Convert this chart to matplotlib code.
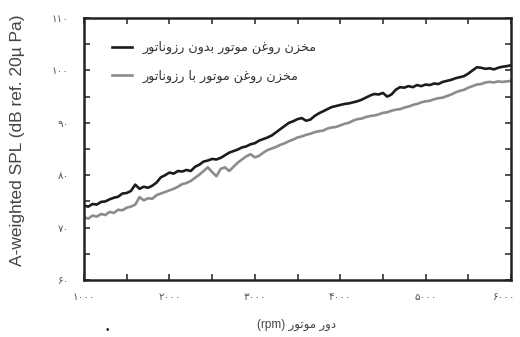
import numpy as np
import matplotlib
matplotlib.use("Agg")
import matplotlib.pyplot as plt
import matplotlib.transforms as mtransforms
from matplotlib.ticker import MultipleLocator, FixedLocator, FixedFormatter

plt.rcParams['font.family'] = ['Liberation Sans', 'DejaVu Sans']

# Engine speed (rpm) and A-weighted SPL (dB) for the two oil-pan variants
rpm = np.arange(1000, 6001, 50)

spl_no_resonator = [
    74.2, 74.0, 74.5, 74.4, 74.9, 75.0, 75.4, 75.7, 75.9, 76.5,
    76.6, 77.0, 78.2, 77.4, 77.8, 77.6, 78.0, 78.6, 79.6, 80.0,
    80.5, 80.3, 80.8, 80.7, 81.0, 80.8, 81.6, 82.0, 82.6, 82.8,
    83.1, 83.0, 83.3, 83.8, 84.3, 84.6, 84.9, 85.3, 85.5, 85.9,
    86.1, 86.6, 86.9, 87.2, 87.6, 88.2, 88.8, 89.4, 90.0, 90.3,
    90.7, 90.9, 90.4, 90.6, 91.3, 91.8, 92.2, 92.6, 93.0, 93.2,
    93.4, 93.6, 93.7, 93.9, 94.1, 94.4, 94.8, 95.2, 95.5, 95.4,
    95.7, 95.0, 95.4, 96.3, 96.8, 96.7, 97.0, 96.8, 97.2, 97.0,
    97.3, 97.2, 97.5, 97.4, 97.8, 98.0, 98.2, 98.5, 98.7, 98.9,
    99.4, 100.0, 100.6, 100.5, 100.3, 100.4, 100.2, 100.5, 100.7, 100.8,
    101.0,
]

spl_with_resonator = [
    72.0, 71.7, 72.3, 72.1, 72.6, 72.4, 73.0, 72.8, 73.4, 73.3,
    73.8, 74.0, 74.4, 75.8, 75.2, 75.6, 75.5, 76.2, 76.5, 76.8,
    77.1, 77.4, 77.8, 78.3, 78.5, 78.9, 79.5, 80.1, 80.8, 81.5,
    80.6, 79.8, 81.2, 81.5, 80.8, 81.6, 82.4, 83.0, 83.6, 84.0,
    83.4, 83.7, 84.3, 84.8, 85.1, 85.4, 85.8, 86.1, 86.5, 86.8,
    87.2, 87.4, 87.7, 87.9, 88.2, 88.4, 88.5, 88.9, 89.1, 89.2,
    89.5, 89.8, 90.0, 90.4, 90.7, 90.8, 91.1, 91.3, 91.4, 91.6,
    91.9, 92.0, 92.3, 92.5, 92.6, 92.9, 93.1, 93.4, 93.6, 93.9,
    94.1, 94.2, 94.5, 94.7, 94.8, 95.1, 95.4, 95.8, 96.1, 96.3,
    96.7, 97.0, 97.3, 97.4, 97.7, 97.8, 97.7, 97.9, 97.8, 97.9,
    98.0,
]

x_ticks = [1000, 2000, 3000, 4000, 5000, 6000]
x_tick_labels = ['۱۰۰۰', '۲۰۰۰', '۳۰۰۰', '۴۰۰۰', '۵۰۰۰', '۶۰۰۰']
y_ticks = [60, 70, 80, 90, 100, 110]
y_tick_labels = ['۶۰', '۷۰', '۸۰', '۹۰', '۱۰۰', '۱۱۰']

label_no_resonator = 'مخزن روغن موتور بدون رزوناتور'
label_with_resonator = 'مخزن روغن موتور با رزوناتور'
x_label_fa = 'دور موتور'
y_label = 'A-weighted SPL (dB ref. 20µ Pa)'


# Minimal Arabic-script shaping: contextual presentation forms + visual order
FORMS = {
    # letter: (isolated, final, initial, medial) ; None where the form doesn't exist
    'ا': ('\uFE8D', '\uFE8E', None, None),
    'ب': ('\uFE8F', '\uFE90', '\uFE91', '\uFE92'),
    'ت': ('\uFE95', '\uFE96', '\uFE97', '\uFE98'),
    'خ': ('\uFEA5', '\uFEA6', '\uFEA7', '\uFEA8'),
    'د': ('\uFEA9', '\uFEAA', None, None),
    'ر': ('\uFEAD', '\uFEAE', None, None),
    'ز': ('\uFEAF', '\uFEB0', None, None),
    'غ': ('\uFECD', '\uFECE', '\uFECF', '\uFED0'),
    'م': ('\uFEE1', '\uFEE2', '\uFEE3', '\uFEE4'),
    'ن': ('\uFEE5', '\uFEE6', '\uFEE7', '\uFEE8'),
    'و': ('\uFEED', '\uFEEE', None, None),
}


def joins_next(ch):
    return ch in FORMS and FORMS[ch][2] is not None


def shape(text):
    out = []
    for i, ch in enumerate(text):
        if ch not in FORMS:
            out.append(ch)
            continue
        prev = text[i - 1] if i > 0 else ''
        nxt = text[i + 1] if i + 1 < len(text) else ''
        left = joins_next(prev)
        right = joins_next(ch) and nxt in FORMS
        iso, fin, ini, med = FORMS[ch]
        if left and right:
            out.append(med)
        elif left:
            out.append(fin)
        elif right:
            out.append(ini)
        else:
            out.append(iso)
    return ''.join(out)[::-1]


fig = plt.figure(figsize=(5.2, 3.37), dpi=100)
ax = fig.add_axes([84 / 520, 1 - 280 / 337, 427 / 520, 262 / 337])

ax.plot(rpm, spl_no_resonator, color='#1c1c1c', lw=1.9,
        label=shape(label_no_resonator))
ax.plot(rpm, spl_with_resonator, color='#8c8c8c', lw=1.9,
        label=shape(label_with_resonator))

ax.set_xlim(1000, 6000)
ax.set_ylim(60, 110)

ax.xaxis.set_major_locator(FixedLocator(x_ticks))
ax.xaxis.set_major_formatter(FixedFormatter(x_tick_labels))
ax.yaxis.set_major_locator(FixedLocator(y_ticks))
ax.yaxis.set_major_formatter(FixedFormatter(y_tick_labels))
ax.xaxis.set_minor_locator(MultipleLocator(500))
ax.yaxis.set_minor_locator(MultipleLocator(5))

for side in ax.spines.values():
    side.set_linewidth(1.8)
    side.set_color('#222222')

ax.tick_params(which='both', direction='in', top=True, right=True,
               length=4, width=1.2, color='#333333')
ax.tick_params(axis='both', which='major', labelsize=7.5, labelcolor='#555555',
               labelfontfamily='DejaVu Sans')
ax.tick_params(axis='y', which='major', pad=11)
ax.tick_params(axis='x', which='major', pad=9)

# keep the last rpm label inside the canvas
fig.canvas.draw()
last = ax.get_xticklabels()[-1]
last.set_transform(last.get_transform()
                   + mtransforms.ScaledTranslation(-7 / 100, 0, fig.dpi_scale_trans))

leg = ax.legend(loc='upper left', bbox_to_anchor=(0.038, 0.955), frameon=False,
                handlelength=1.6, handletextpad=0.8, labelspacing=1.2,
                prop={'family': 'DejaVu Sans', 'size': 9.2})
for t in leg.get_texts():
    t.set_color('#333333')

fig.text(18 / 520, 1 - 140 / 337, y_label, rotation=90, ha='center',
         va='center', fontsize=12.5, color='#444444')
fig.text(297 / 520, 1 - 325 / 337, '(rpm) ' + shape(x_label_fa),
         ha='center', va='center', fontsize=8.5, color='#444444',
         family=['Liberation Sans', 'DejaVu Sans'])
fig.text(107 / 520, 1 - 330 / 337, '•', ha='center', va='center',
         fontsize=7, color='#222222')

fig.savefig('out.png', dpi=100)
